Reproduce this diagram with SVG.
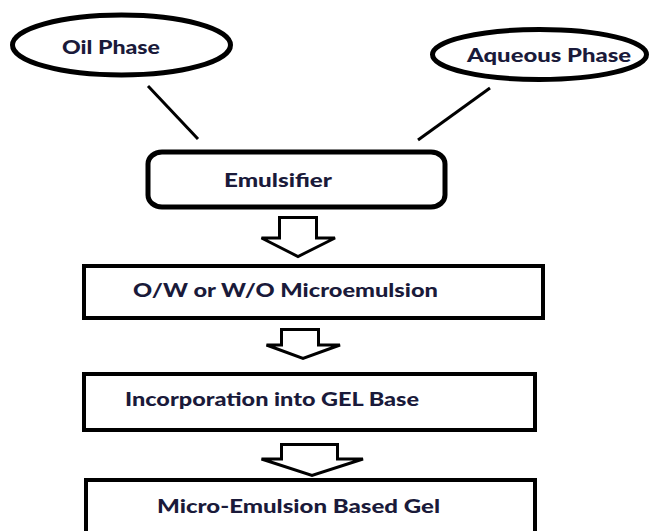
<svg xmlns="http://www.w3.org/2000/svg" width="654" height="531" viewBox="0 0 654 531">
<style>
.shape{fill:#fff;stroke:#000;stroke-width:5}
.box{fill:#fff;stroke:#000;stroke-width:4}
.arrow{fill:#fff;stroke:#000;stroke-width:3;stroke-linejoin:miter}
.conn{stroke:#000;stroke-width:3;fill:none}
.lbl{font-family:Lato,"Open Sans","Liberation Sans",sans-serif;font-weight:900;font-size:18px;fill:#1a1a3a}
</style>
<rect width="654" height="531" fill="#fff"/>
<g id="connectors">
<line class="conn" x1="148" y1="86" x2="198" y2="139"/>
<line class="conn" x1="490" y1="88" x2="418" y2="140"/>
<polygon class="arrow" points="279.5,217.5 316.5,217.5 316.5,238 335,238 298,256.5 261.5,238 279.5,238"/>
<polygon class="arrow" points="281.5,329.5 318.5,329.5 318.5,345 340,345 303,358.5 266.5,345 281.5,345"/>
<polygon class="arrow" points="281.5,444.5 337.5,444.5 337.5,459 363,459 312,475.5 261.5,459 281.5,459"/>
</g>
<g id="oil-phase">
<ellipse class="shape" cx="121.5" cy="45" rx="109" ry="30"/>
<text class="lbl" x="62" y="54" textLength="98" lengthAdjust="spacingAndGlyphs">Oil Phase</text>
</g>
<g id="aqueous-phase">
<ellipse class="shape" cx="539.5" cy="54.5" rx="107" ry="25"/>
<text class="lbl" x="467" y="62" textLength="164" lengthAdjust="spacingAndGlyphs">Aqueous Phase</text>
</g>
<g id="emulsifier">
<rect class="shape" x="148" y="152" width="297" height="55" rx="14" ry="12"/>
<text class="lbl" x="224" y="187" textLength="108" lengthAdjust="spacingAndGlyphs">Emulsifier</text>
</g>
<g id="microemulsion">
<rect class="box" x="84" y="266" width="459" height="52"/>
<text class="lbl" x="133" y="297" textLength="305" lengthAdjust="spacingAndGlyphs">O/W or W/O Microemulsion</text>
</g>
<g id="incorporation">
<rect class="box" x="84" y="374" width="451" height="56"/>
<text class="lbl" x="125" y="406" textLength="294" lengthAdjust="spacingAndGlyphs">Incorporation into GEL Base</text>
</g>
<g id="gel">
<rect class="box" x="86" y="480" width="449" height="54"/>
<text class="lbl" x="157" y="513" textLength="283" lengthAdjust="spacingAndGlyphs">Micro-Emulsion Based Gel</text>
</g>
</svg>
